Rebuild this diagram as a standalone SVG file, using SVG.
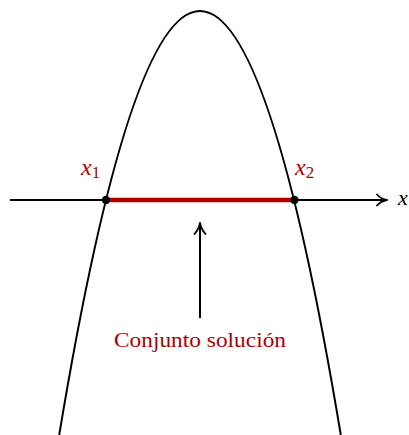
<svg xmlns="http://www.w3.org/2000/svg" width="409" height="435" viewBox="0 0 409 435">
<style>
.ln{fill:none;stroke:#000;stroke-width:2}
.hd{fill:none;stroke:#000;stroke-width:1.8;stroke-linecap:round;stroke-linejoin:round}
.red{fill:#b00000;font-family:"Liberation Serif","DejaVu Serif",serif}
.blk{fill:#000;font-family:"Liberation Serif","DejaVu Serif",serif}
</style>
<rect width="409" height="435" fill="#fff"/>
<g id="parabola">
<path class="ln" d="M59.2,435 Q200,-413 340.8,435"/>
</g>
<g id="axis">
<line class="ln" x1="10" y1="200" x2="386" y2="200"/>
<path class="hd" d="M377,194.5 Q381,199 387,200 Q381,201 377,205.5"/>
<text class="blk" x="398" y="205" font-size="22" font-style="italic">x</text>
</g>
<g id="solution">
<line x1="106" y1="200" x2="294.5" y2="200" stroke="#b00000" stroke-width="4.5"/>
</g>
<g id="roots">
<circle cx="106" cy="200" r="4.2"/>
<circle cx="294.5" cy="200" r="4.2"/>
<text class="red" x="81" y="175" font-size="24" font-style="italic">x<tspan font-size="17" font-style="normal" dy="3">1</tspan></text>
<text class="red" x="295" y="175" font-size="24" font-style="italic">x<tspan font-size="17" font-style="normal" dy="3">2</tspan></text>
</g>
<g id="connectors">
<line class="ln" x1="200" y1="318" x2="200" y2="225"/>
<path class="hd" d="M194.5,234 Q199,229 200,223 Q201,229 205.5,234"/>
</g>
<g id="label">
<text class="red" x="200" y="347" font-size="21" text-anchor="middle" textLength="172" lengthAdjust="spacingAndGlyphs">Conjunto solución</text>
</g>
</svg>
